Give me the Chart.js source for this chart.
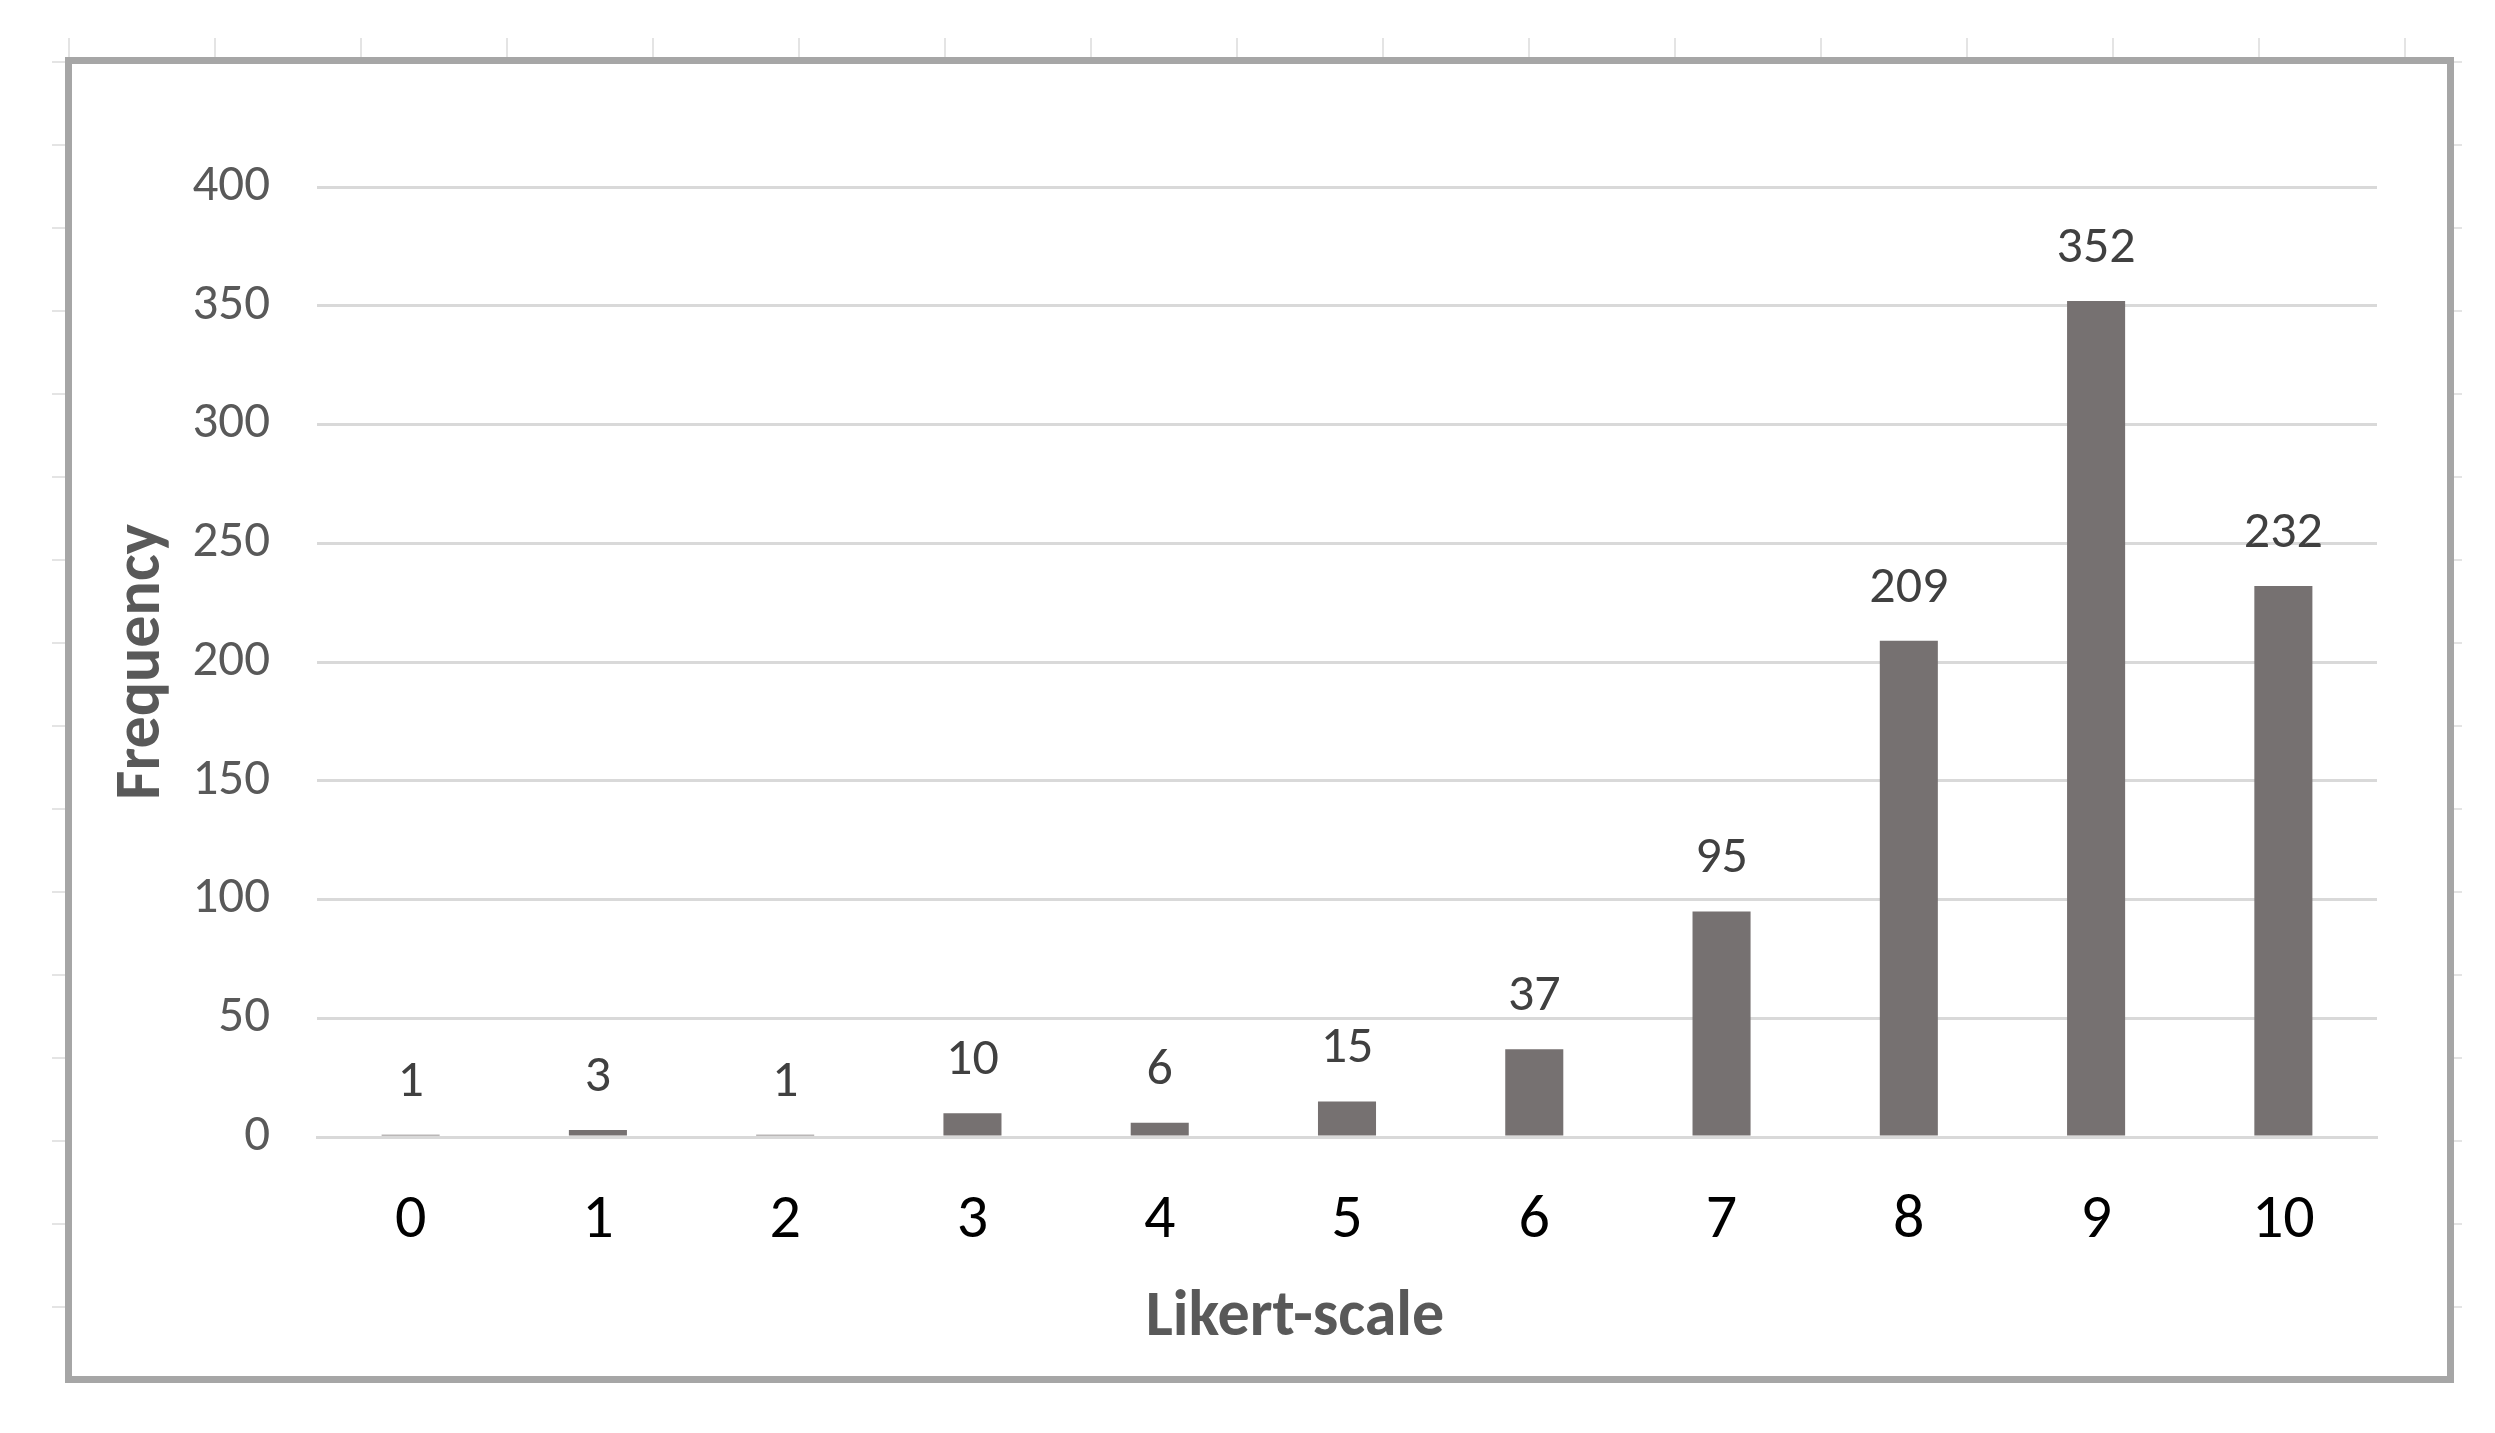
<!DOCTYPE html>
<html>
<head>
<meta charset="utf-8">
<script src="https://cdn.jsdelivr.net/npm/chart.js@4.4.1/dist/chart.umd.min.js"></script>
<style>
  html, body { margin: 0; padding: 0; background: #fff; overflow: hidden; }
  body { width: 2495px; height: 1433px; position: relative; }
  /* faint spreadsheet cell lines peeking out around the chart frame */
  #sheet {
    position: absolute; left: 52px; top: 38px; width: 2410px; height: 1345px;
    background-image:
      linear-gradient(to right, #e4e4e4 2px, transparent 2px),
      linear-gradient(to bottom, #e4e4e4 2px, transparent 2px);
    background-size: 146px 100%, 100% 83px;
    background-position: 16px 0, 0 23px;
  }
  #frame {
    position: absolute; left: 65px; top: 57px;
    width: 2375px; height: 1312px;
    border: 7px solid #a6a6a6; background: #fff;
  }
  canvas { display: block; }
</style>
</head>
<body>
<div id="sheet"></div>
<div id="frame"><canvas id="likertChart" width="2375" height="1312"></canvas></div>
<script>
// --- data ---
const likertLabels = ['0', '1', '2', '3', '4', '5', '6', '7', '8', '9', '10'];
const frequency = [1, 3, 1, 10, 6, 15, 37, 95, 209, 352, 232];
const yMin = 0;
const yMax = 400;
const yStep = 50;
const xTitle = 'Likert-scale';
const yTitle = 'Frequency';

const FONT = 'Carlito, "Open Sans", sans-serif';

// value labels above each bar
const barLabels = {
    id: 'barLabels',
    afterDatasetsDraw(chart) {
        const ctx = chart.ctx;
        const meta = chart.getDatasetMeta(0);
        ctx.save();
        ctx.font = '52px ' + FONT;
        ctx.fillStyle = '#404040';
        ctx.textAlign = 'center';
        ctx.textBaseline = 'alphabetic';
        meta.data.forEach((bar, i) => {
            ctx.fillText(String(frequency[i]), bar.x, bar.y - 39);
        });
        ctx.restore();
    }
};

// x axis title sits a bit left of the plot centre, like the original
const xAxisTitle = {
    id: 'xAxisTitle',
    afterDraw(chart) {
        const ctx = chart.ctx;
        const area = chart.chartArea;
        ctx.save();
        ctx.font = 'bold 64px ' + FONT;
        ctx.fillStyle = '#595959';
        ctx.textAlign = 'center';
        ctx.textBaseline = 'alphabetic';
        ctx.fillText(xTitle, (area.left + area.right) / 2 - 52, area.bottom + 198);
        ctx.restore();
    }
};

const ctx = document.getElementById('likertChart').getContext('2d');
new Chart(ctx, {
    type: 'bar',
    data: {
        labels: likertLabels,
        datasets: [{
            data: frequency,
            backgroundColor: '#767171',
            borderWidth: 0,
            barPercentage: 0.31,
            categoryPercentage: 1.0
        }]
    },
    options: {
        responsive: false,
        animation: false,
        devicePixelRatio: 1,
        layout: { padding: { top: 123, right: 70, left: 0, bottom: 0 } },
        plugins: {
            legend: { display: false },
            tooltip: { enabled: false }
        },
        scales: {
            x: {
                grid: { display: false, drawTicks: false },
                border: { display: true, color: '#d9d9d9', width: 3 },
                ticks: {
                    color: '#000000',
                    font: { family: FONT, size: 62 },
                    padding: 47,
                    maxRotation: 0
                },
                afterFit(scale) { scale.height = 239; }
            },
            y: {
                min: yMin,
                max: yMax,
                grid: { color: '#d9d9d9', lineWidth: 3, drawTicks: false },
                border: { display: false },
                ticks: {
                    stepSize: yStep,
                    color: '#595959',
                    font: { family: FONT, size: 51 },
                    padding: 47
                },
                title: {
                    display: true,
                    text: yTitle,
                    color: '#595959',
                    font: { family: FONT, size: 64, weight: 'bold' },
                    padding: { top: 33, bottom: 0 }
                },
                afterFit(scale) { scale.width = 245; }
            }
        }
    },
    plugins: [barLabels, xAxisTitle]
});
</script>
</body>
</html>
